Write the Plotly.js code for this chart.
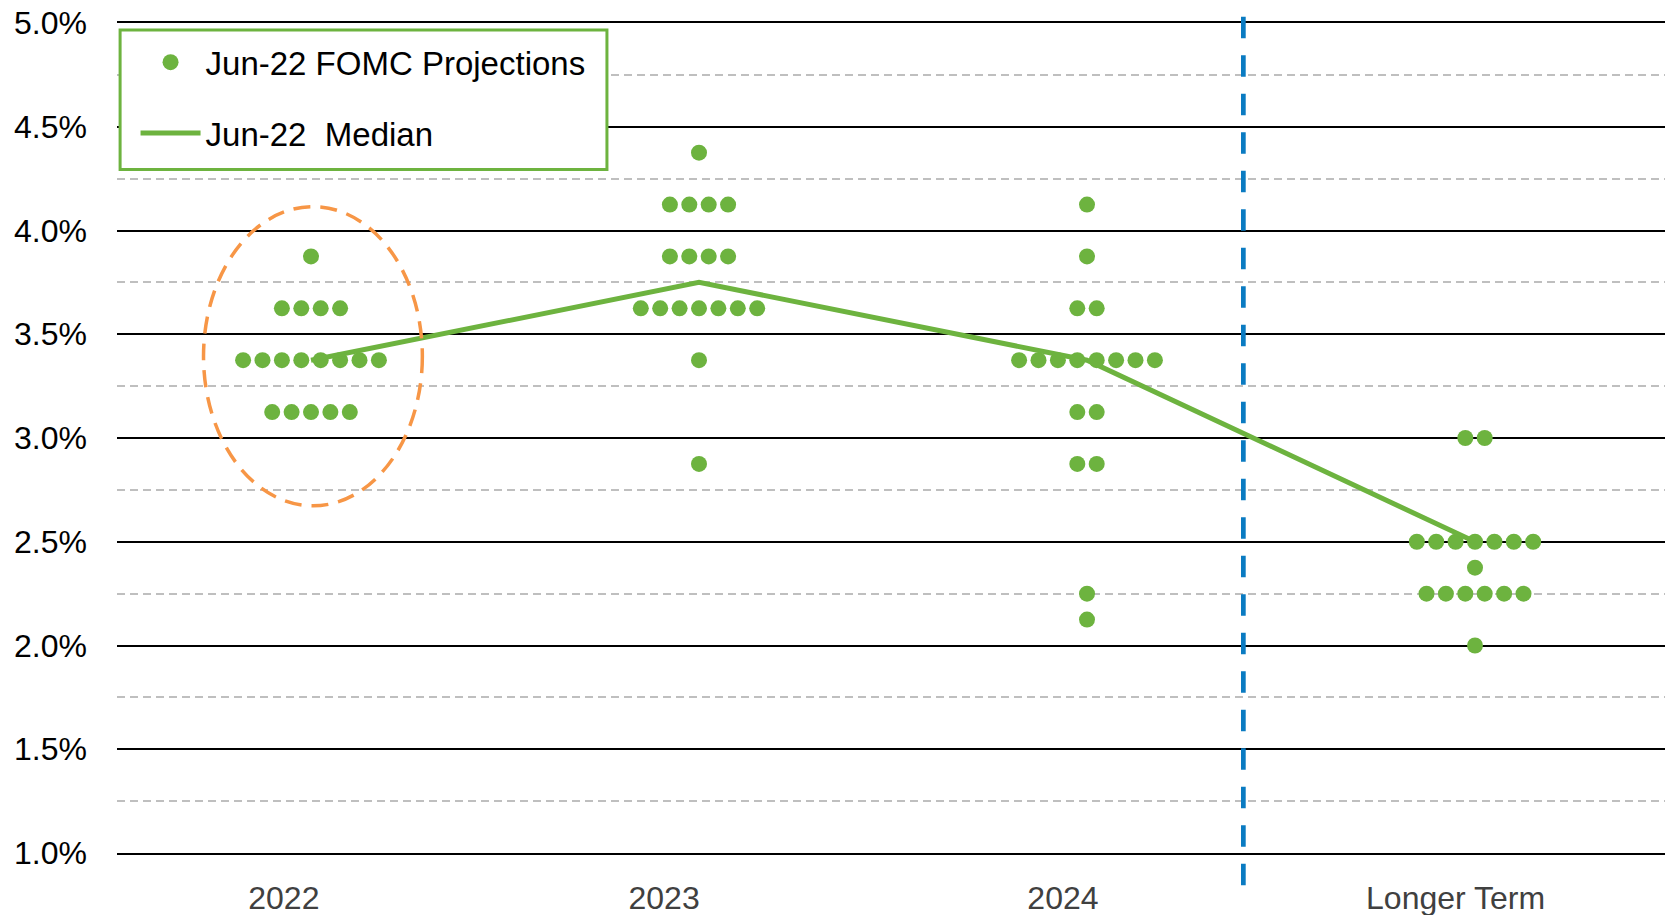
<!DOCTYPE html>
<html>
<head>
<meta charset="utf-8">
<script src="https://cdn.plot.ly/plotly-3.0.1.min.js"></script>
<style>html,body{margin:0;padding:0;background:#fff;}#chart{width:1665px;height:915px;}</style>
</head>
<body>
<div id="chart"></div>
<script>
// ---- data ----
const categories = ['2022', '2023', '2024', 'Longer Term'];
const rates2022 = [3.875, 3.625, 3.375, 3.125];
const counts2022 = [1, 4, 8, 5];
const rates2023 = [4.375, 4.125, 3.875, 3.625, 3.375, 2.875];
const counts2023 = [1, 4, 4, 7, 1, 1];
const rates2024 = [4.125, 3.875, 3.625, 3.375, 3.125, 2.875, 2.25, 2.125];
const counts2024 = [1, 1, 2, 8, 2, 2, 1, 1];
const ratesLonger = [3.0, 2.5, 2.375, 2.25, 2.0];
const countsLonger = [2, 7, 1, 6, 1];
const medians = [3.375, 3.75, 3.375, 2.5];
const yTickVals = [1.0, 1.5, 2.0, 2.5, 3.0, 3.5, 4.0, 4.5, 5.0];
const yTickText = yTickVals.map(function (v) { return v.toFixed(1) + '%'; });

// ---- layout helpers ----
const dotStep = 0.05;            // horizontal spacing between stacked dots (x units)
const labelShift = [-0.07, -0.09, -0.062, -0.05];
const green = '#6DB33F';

const groups = [
  [rates2022, counts2022],
  [rates2023, counts2023],
  [rates2024, counts2024],
  [ratesLonger, countsLonger]
];
const dotX = [], dotY = [];
groups.forEach(function (g, ci) {
  const rates = g[0], counts = g[1];
  rates.forEach(function (r, ri) {
    const n = counts[ri];
    for (let k = 0; k < n; k++) {
      dotX.push(ci + (k - (n - 1) / 2) * dotStep);
      dotY.push(r);
    }
  });
});
const catIdx = categories.map(function (_, i) { return i; });

const traces = [
  {
    x: dotX, y: dotY, type: 'scatter', mode: 'markers',
    name: 'Jun-22 FOMC Projections', legendgroup: 'a',
    marker: {color: green, size: 16, line: {width: 0}},
    hoverinfo: 'y'
  },
  {
    x: catIdx, y: medians, type: 'scatter', mode: 'lines',
    name: 'Jun-22  Median', legendgroup: 'b',
    line: {color: green, width: 5},
    hoverinfo: 'y'
  }
];

const layout = {
  width: 1665, height: 915,
  margin: {l: 117, r: 0, t: 23, b: 62, pad: 0},
  paper_bgcolor: '#ffffff', plot_bgcolor: '#ffffff',
  font: {family: '"Liberation Sans", Arial, sans-serif', size: 32, color: '#000'},
  showlegend: true,
  legend: {
    x: 0.001, xanchor: 'left', y: 0.9865, yanchor: 'top',
    bgcolor: 'rgba(0,0,0,0)', borderwidth: 0,
    font: {size: 33, color: '#000'},
    traceorder: 'grouped', tracegroupgap: 25,
    itemwidth: 60, indentation: 17
  },
  xaxis: {
    range: [-0.5, 3.4897],
    tickvals: catIdx.map(function (i) { return i + labelShift[i]; }),
    ticktext: categories,
    tickfont: {size: 32, color: '#404040'},
    showgrid: false, zeroline: false,
    showline: true, mirror: true, linecolor: '#000', linewidth: 2,
    ticks: '', ticklabelstandoff: 16,
    fixedrange: true
  },
  yaxis: {
    range: [1, 5],
    tickmode: 'array', tickvals: yTickVals, ticktext: yTickText,
    tickfont: {size: 32, color: '#000'},
    showgrid: true, gridcolor: '#000', gridwidth: 2,
    zeroline: false, showline: false,
    ticks: '', ticklabelstandoff: 29,
    minor: {tick0: 1.25, dtick: 0.5, showgrid: true, gridcolor: '#BFBFBF', gridwidth: 2, griddash: '8px,5px'},
    fixedrange: true
  },
  shapes: [
    {
      type: 'rect', xref: 'paper', yref: 'paper', x0: 0.002, x1: 0.3165, y0: 0.8235, y1: 0.9915,
      fillcolor: '#ffffff', line: {color: '#6DB33F', width: 3}, layer: 'above'
    },
    {
      type: 'line', xref: 'x', yref: 'paper', x0: 2.403, x1: 2.403, y0: 1.0076, y1: -0.041,
      line: {color: '#0A7BC2', width: 4.7, dash: '21.5px,17px'}, layer: 'above'
    },
    {
      type: 'circle', xref: 'x', yref: 'y', x0: -0.277, x1: 0.287, y0: 2.673, y1: 4.115,
      line: {color: '#F79646', width: 3.5, dash: '17px,10px'}, layer: 'above'
    }
  ]
};

Plotly.newPlot('chart', traces, layout, {displayModeBar: false, staticPlot: true});
</script>
</body>
</html>
